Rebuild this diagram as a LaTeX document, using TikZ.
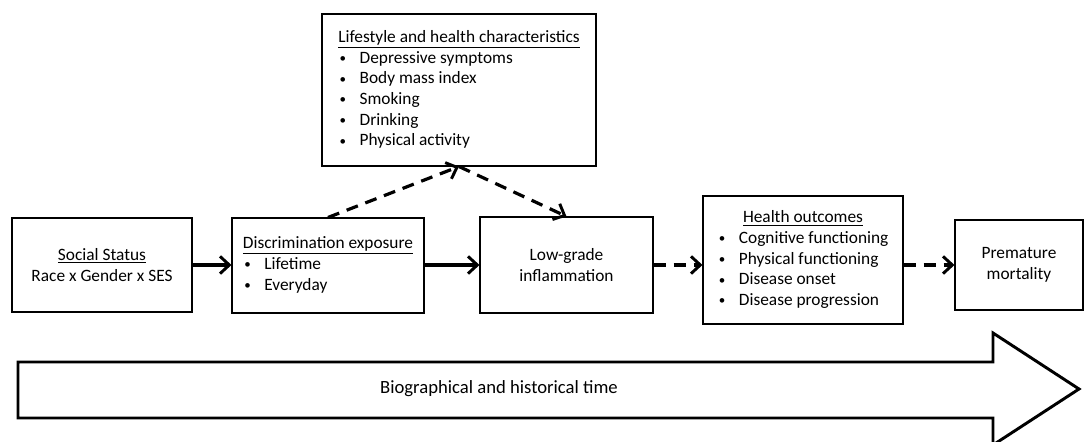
\documentclass[tikz,border=0pt]{standalone}
\usepackage{fontspec}
\setmainfont{Carlito}
\usetikzlibrary{arrows.meta}
\tikzset{
  box/.style={draw=black, line width=0.8pt, fill=white, inner sep=0pt, align=center, font=\fontsize{13}{15.5}\selectfont},
  conn/.style={line width=2.4pt, -{Straight Barb[length=7pt,width=13pt,line width=2.2pt]}},
  dconn/.style={conn, dash pattern=on 9pt off 6pt},
  bigarrow/.style={draw=black, line width=2.2pt, line join=miter, fill=white},
}
\newcommand{\itm}[1]{\makebox[16pt][l]{\hspace{1pt}\raisebox{0.5pt}{\scalebox{0.75}{\textbullet}}}#1}
\begin{document}
\begin{tikzpicture}[x=0.75pt, y=-0.75pt]
\useasboundingbox (0,0) rectangle (1089,442);
% boxes
\node[box, minimum width=135pt, minimum height=70.5pt] (social) at (102,265)
  {\underline{Social Status}\\Race x Gender x SES};
\node[box, minimum width=144pt, minimum height=71.25pt] (disc) at (328,265.5)
  {\begin{tabular}{@{}l@{}}\multicolumn{1}{@{}c@{}}{\underline{Discrimination exposure}}\\ \itm{Lifetime}\\ \itm{Everyday}\end{tabular}};
\node[box, minimum width=205.5pt, minimum height=114pt] (life) at (459,90)
  {\begin{tabular}{@{}l@{}}\multicolumn{1}{@{}c@{}}{\underline{Lifestyle and health characteristics}}\\ \itm{Depressive symptoms}\\ \itm{Body mass index}\\ \itm{Smoking}\\ \itm{Drinking}\\ \itm{Physical activity}\end{tabular}};
\node[box, minimum width=129.75pt, minimum height=72pt] (low) at (566.5,265)
  {Low-grade\\inflammation};
\node[box, minimum width=150pt, minimum height=96pt] (health) at (803,260)
  {\begin{tabular}{@{}l@{}}\multicolumn{1}{@{}c@{}}{\underline{Health outcomes}}\\ \itm{Cognitive functioning}\\ \itm{Physical functioning}\\ \itm{Disease onset}\\ \itm{Disease progression}\end{tabular}};
\node[box, minimum width=96pt, minimum height=67.5pt] (prem) at (1019,265)
  {Premature\\mortality};
% connectors
\draw[conn] (social.east |- 0,265) -- (disc.west |- 0,265);
\draw[conn] (disc.east |- 0,265) -- (low.west |- 0,265);
\draw[dconn] (low.east |- 0,265) -- (health.west |- 0,265);
\draw[dconn] (health.east |- 0,265) -- (prem.west |- 0,265);
\draw[dconn] (disc.north) -- (life.south);
\draw[dconn] (life.south) -- (low.north);
% time arrow
\draw[bigarrow] (18,362) -- (993,362) -- (993,333) -- (1079,389) -- (993,445) -- (993,418) -- (18,418) -- cycle;
\node[font=\fontsize{14}{15}\selectfont, inner sep=0pt] (time) at (499,389) {Biographical and historical time};
\end{tikzpicture}
\end{document}
